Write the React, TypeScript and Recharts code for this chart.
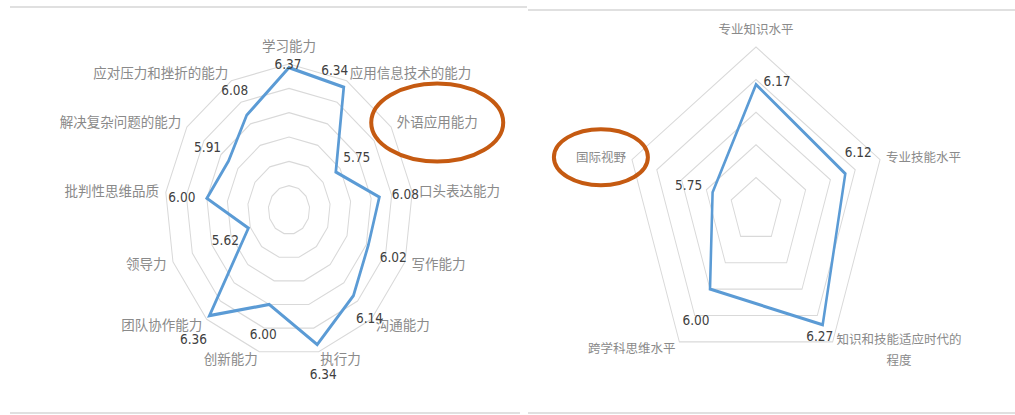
import React from 'react';
import { RadarChart, Radar, PolarGrid, PolarAngleAxis, PolarRadiusAxis } from 'recharts';

// 左图：13 项能力
const abilityNames = [
  '学习能力', '应用信息技术的能力', '外语应用能力', '口头表达能力', '写作能力', '沟通能力',
  '执行力', '创新能力', '团队协作能力', '领导力', '批判性思维品质', '解决复杂问题的能力', '应对压力和挫折的能力',
];
const abilityScores = [6.37, 6.34, 5.75, 6.08, 6.02, 6.14, 6.34, 6.0, 6.36, 5.62, 6.0, 5.91, 6.08];
const abilityTicks = [5.2, 5.4, 5.6, 5.8, 6.0, 6.2, 6.4];

// 右图：5 项专业素养
const literacyNames = ['专业知识水平', '专业技能水平', '知识和技能适应时代的程度', '跨学科思维水平', '国际视野'];
const literacyScores = [6.17, 6.12, 6.27, 6.0, 5.75];
const literacyTicks = [5.4, 5.6, 5.8, 6.0, 6.2, 6.4];

// 橙色圈出的维度
const highlighted = ['外语应用能力', '国际视野'];

// 数值标签相对数据点的偏移（屏幕像素）
const abilityLabelShift = [
  [-1, -3], [-9, -17], [21, -15], [26, -3], [25, 12], [16, 23], [6, 30],
  [-6, 30], [-16, 24], [-23, 12], [-25, -1], [-21, -14], [-12, -25],
];
const literacyLabelShift = [[21, -3], [13, -21], [-3, 12], [-14, 31], [-24, -7]];

const CJK = '"Noto Sans CJK SC", "Noto Sans", sans-serif';
const NUM = '"Liberation Sans Narrow", "DejaVu Sans Condensed", "Liberation Sans", sans-serif';

function wrap(text: string, max: number) {
  const out: string[] = [];
  for (let i = 0; i < text.length; i += max) out.push(text.slice(i, i + max));
  return out;
}

interface PanelProps {
  names: string[];
  scores: number[];
  ticks: number[];
  left: number;
  cx: number;
  cy: number;
  radius: number;
  squeeze: number;
  nameSize: number;
  shifts: number[][];
  ring: { rx: number; ry: number };
}

function RadarPanel({ names, scores, ticks, left, cx, cy, radius, squeeze, nameSize, shifts, ring }: PanelProps) {
  const data = names.map((name, i) => ({ name, score: scores[i] }));
  const lo = ticks[0];
  const hi = ticks[ticks.length - 1];

  const renderTick = (props: any) => {
    const { x, y, textAnchor, payload } = props;
    const name = String(payload.value);
    const lines = wrap(name, 10);
    const w = Math.max(...lines.map((l) => l.length)) * nameSize;
    const isTop = textAnchor === 'middle' && y < cy;
    const tx = textAnchor === 'start' ? w / 2 : textAnchor === 'end' ? -w / 2 : 0;
    const baseY = isTop ? -nameSize * 0.75 : 0;
    return (
      <g transform={`translate(${x},${y}) scale(${1 / squeeze},1)`}>
        {highlighted.includes(name) && (
          <ellipse cx={tx} cy={baseY} rx={ring.rx} ry={ring.ry} fill="none" stroke="#C55A11" strokeWidth={4} />
        )}
        <text textAnchor="middle" fill="#8a8a8a" fontSize={nameSize} fontFamily={CJK}>
          {lines.map((l, i) => (
            <tspan key={i} x={tx} y={baseY + (i - (lines.length - 1) / 2) * 21 + (lines.length > 1 ? 2 : 0)} dy="0.35em">
              {l}
            </tspan>
          ))}
        </text>
      </g>
    );
  };

  const renderDot = (props: any) => {
    const { cx: px, cy: py, index } = props;
    const [dx, dy] = shifts[index];
    return (
      <g key={`v-${index}`} transform={`translate(${px + dx / squeeze},${py + dy}) scale(${1 / squeeze},1)`}>
        <text textAnchor="middle" dy="0.35em" fill="#404040" fontSize={13.5} fontFamily={NUM}>
          {scores[index].toFixed(2)}
        </text>
      </g>
    );
  };

  return (
    <div
      style={{
        position: 'absolute',
        left,
        top: 0,
        width: 600,
        height: 415,
        transform: `scaleX(${squeeze})`,
        transformOrigin: `${cx}px 0px`,
      }}
    >
      <RadarChart width={600} height={415} cx={cx} cy={cy} outerRadius={radius} data={data}>
        <PolarGrid gridType="polygon" radialLines={false} stroke="#d9d9d9" strokeWidth={1.2} />
        <PolarAngleAxis dataKey="name" tick={renderTick} tickLine={false} axisLine={false} />
        <PolarRadiusAxis
          type="number"
          domain={[lo, hi]}
          tickCount={ticks.length}
          allowDecimals
          tick={false}
          axisLine={false}
        />
        <Radar
          dataKey="score"
          stroke="#5B9BD5"
          strokeWidth={3.2}
          fill="none"
          fillOpacity={0}
          dot={renderDot}
          isAnimationActive={false}
        />
      </RadarChart>
    </div>
  );
}

const frameLine = (left: number, top: number, width: number): React.CSSProperties => ({
  position: 'absolute',
  left,
  top,
  width,
  height: 0,
  borderTop: '2px solid #e0e0e0',
});

export default function App() {
  return (
    <div style={{ position: 'absolute', left: 0, top: 0, width: 1015, height: 415, overflow: 'hidden', background: '#fff' }}>
      <div style={frameLine(10, 6, 517)} />
      <div style={frameLine(10, 412, 510)} />
      <div style={frameLine(528, 9, 487)} />
      <div style={frameLine(528, 412, 487)} />
      <RadarPanel
        names={abilityNames}
        scores={abilityScores}
        ticks={abilityTicks}
        left={0}
        cx={289}
        cy={210}
        radius={146}
        squeeze={0.85}
        nameSize={13.5}
        shifts={abilityLabelShift}
        ring={{ rx: 66, ry: 39 }}
      />
      <RadarPanel
        names={literacyNames}
        scores={literacyScores}
        ticks={literacyTicks}
        left={450}
        cx={306}
        cy={210}
        radius={163}
        squeeze={0.8}
        nameSize={12.5}
        shifts={literacyLabelShift}
        ring={{ rx: 47, ry: 28 }}
      />
    </div>
  );
}
